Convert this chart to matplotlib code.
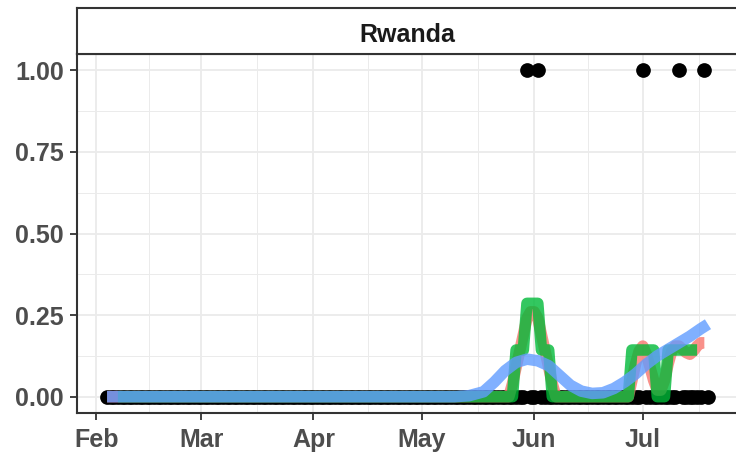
import matplotlib
matplotlib.use("Agg")
import matplotlib.pyplot as plt
import matplotlib.dates as mdates
from matplotlib.ticker import FixedLocator, MultipleLocator
import pandas as pd

plt.rcParams['font.family'] = ['Liberation Sans', 'DejaVu Sans']

# --- data ---------------------------------------------------------------
country = "Rwanda"
first_day = "2020-02-04"
last_day = "2020-07-19"
# days with a reported event (value 1), every other day is 0
event_days = ["2020-05-30", "2020-06-02", "2020-07-01", "2020-07-11", "2020-07-18"]

# smoothed share (red)
red_dates = ["2020-02-04", "2020-05-25", "2020-05-26", "2020-05-27", "2020-05-28",
             "2020-05-29", "2020-05-30", "2020-05-31", "2020-06-01", "2020-06-02",
             "2020-06-03", "2020-06-04", "2020-06-05", "2020-06-06", "2020-06-07",
             "2020-06-27", "2020-06-28", "2020-06-29", "2020-06-30", "2020-07-01",
             "2020-07-02", "2020-07-03", "2020-07-04", "2020-07-05", "2020-07-06",
             "2020-07-07", "2020-07-08", "2020-07-09", "2020-07-10", "2020-07-11",
             "2020-07-12", "2020-07-13", "2020-07-14", "2020-07-15", "2020-07-16",
             "2020-07-17", "2020-07-18"]
red_values = [0.0, 0.0, 0.04, 0.09, 0.14,
              0.19, 0.24, 0.26, 0.26, 0.24,
              0.19, 0.14, 0.09, 0.04, 0.0,
              0.0, 0.05, 0.10, 0.14, 0.155,
              0.13, 0.09, 0.05, 0.02, 0.02,
              0.05, 0.10, 0.14, 0.155, 0.155,
              0.145, 0.135, 0.13, 0.14, 0.155,
              0.165, 0.165]

# 7-day centred mean (green)
green_dates = ["2020-02-07", "2020-05-26", "2020-05-27", "2020-05-29", "2020-05-30",
               "2020-06-02", "2020-06-03", "2020-06-05", "2020-06-06", "2020-06-27",
               "2020-06-28", "2020-07-04", "2020-07-05", "2020-07-07", "2020-07-08",
               "2020-07-16"]
green_values = [0.0, 0.0, 0.143, 0.143, 0.286,
                0.286, 0.143, 0.143, 0.0, 0.0,
                0.143, 0.143, 0.0, 0.0, 0.143,
                0.143]

# loess trend (blue)
blue_dates = ["2020-02-04", "2020-05-10", "2020-05-14", "2020-05-18", "2020-05-21",
              "2020-05-24", "2020-05-27", "2020-05-30", "2020-06-02", "2020-06-05",
              "2020-06-08", "2020-06-11", "2020-06-14", "2020-06-17", "2020-06-20",
              "2020-06-23", "2020-06-26", "2020-06-29", "2020-07-02", "2020-07-05",
              "2020-07-08", "2020-07-11", "2020-07-14", "2020-07-17", "2020-07-19"]
blue_values = [0.0, 0.0, 0.003, 0.015, 0.045,
               0.08, 0.105, 0.115, 0.11, 0.095,
               0.065, 0.035, 0.017, 0.01, 0.012,
               0.025, 0.045, 0.07, 0.10, 0.125,
               0.145, 0.165, 0.185, 0.208, 0.222]

y_ticks = [0.0, 0.25, 0.5, 0.75, 1.0]
y_tick_labels = ["0.00", "0.25", "0.50", "0.75", "1.00"]

# --- figure -------------------------------------------------------------
days = pd.date_range(first_day, last_day, freq="D")
flag = days.isin(pd.to_datetime(event_days)).astype(float)

fig = plt.figure(figsize=(7.36, 4.55), dpi=100)
ax = fig.add_axes([77 / 736, 42 / 455, 661 / 736, 359 / 455])
strip = fig.add_axes([77 / 736, 401 / 455, 661 / 736, 46 / 455])

border = "#333333"
grid_col = "#EBEBEB"
lw_line = 8.3

ax.scatter(days, flag, s=112, color="black", linewidths=0, zorder=2)
ax.plot(pd.to_datetime(red_dates), red_values, color="#F8766D", alpha=0.8,
        lw=lw_line, solid_capstyle="butt", solid_joinstyle="round", zorder=3)
ax.plot(pd.to_datetime(green_dates), green_values, color="#00BA38", alpha=0.8,
        lw=lw_line, solid_capstyle="butt", solid_joinstyle="round", zorder=4)
ax.plot(pd.to_datetime(blue_dates), blue_values, color="#619CFF", alpha=0.8,
        lw=lw_line, solid_capstyle="butt", solid_joinstyle="round", zorder=5)

# limits with 5% padding, like the default expansion
x0 = mdates.date2num(days[0])
x1 = mdates.date2num(days[-1])
pad = (x1 - x0) * 0.05
ax.set_xlim(x0 - pad, x1 + pad)
ax.set_ylim(-0.05, 1.05)

months = pd.date_range("2020-02-01", "2020-08-01", freq="MS")
month_nums = [mdates.date2num(m) for m in months]
minor_x = [(a + b) / 2 for a, b in zip(month_nums[:-1], month_nums[1:])]
ax.xaxis.set_major_locator(FixedLocator(month_nums))
ax.xaxis.set_minor_locator(FixedLocator(minor_x))
ax.xaxis.set_major_formatter(mdates.DateFormatter("%b"))

ax.set_yticks(y_ticks)
ax.set_yticklabels(y_tick_labels)
ax.yaxis.set_minor_locator(MultipleLocator(0.125))

ax.grid(True, which="major", color=grid_col, lw=1.3, zorder=0)
ax.grid(True, which="minor", color=grid_col, lw=0.7, zorder=0)
ax.set_axisbelow(True)

ax.tick_params(axis="both", which="major", length=5, width=1.3, color=border,
               labelsize=18, labelcolor="#4D4D4D")
ax.tick_params(axis="x", which="major", pad=6)
ax.tick_params(axis="y", which="major", pad=4.5)
ax.tick_params(which="minor", length=0)
for lab in ax.get_xticklabels() + ax.get_yticklabels():
    lab.set_fontweight("bold")

for sp in ax.spines.values():
    sp.set_color(border)
    sp.set_linewidth(1.5)

# facet strip
strip.set_xticks([])
strip.set_yticks([])
strip.set_facecolor("white")
for sp in strip.spines.values():
    sp.set_color(border)
    sp.set_linewidth(1.5)
strip.text(0.5, 0.47, country, ha="center", va="center_baseline", fontsize=18,
           fontweight="bold", color="#1A1A1A", transform=strip.transAxes)

fig.savefig("out.png", dpi=100)
